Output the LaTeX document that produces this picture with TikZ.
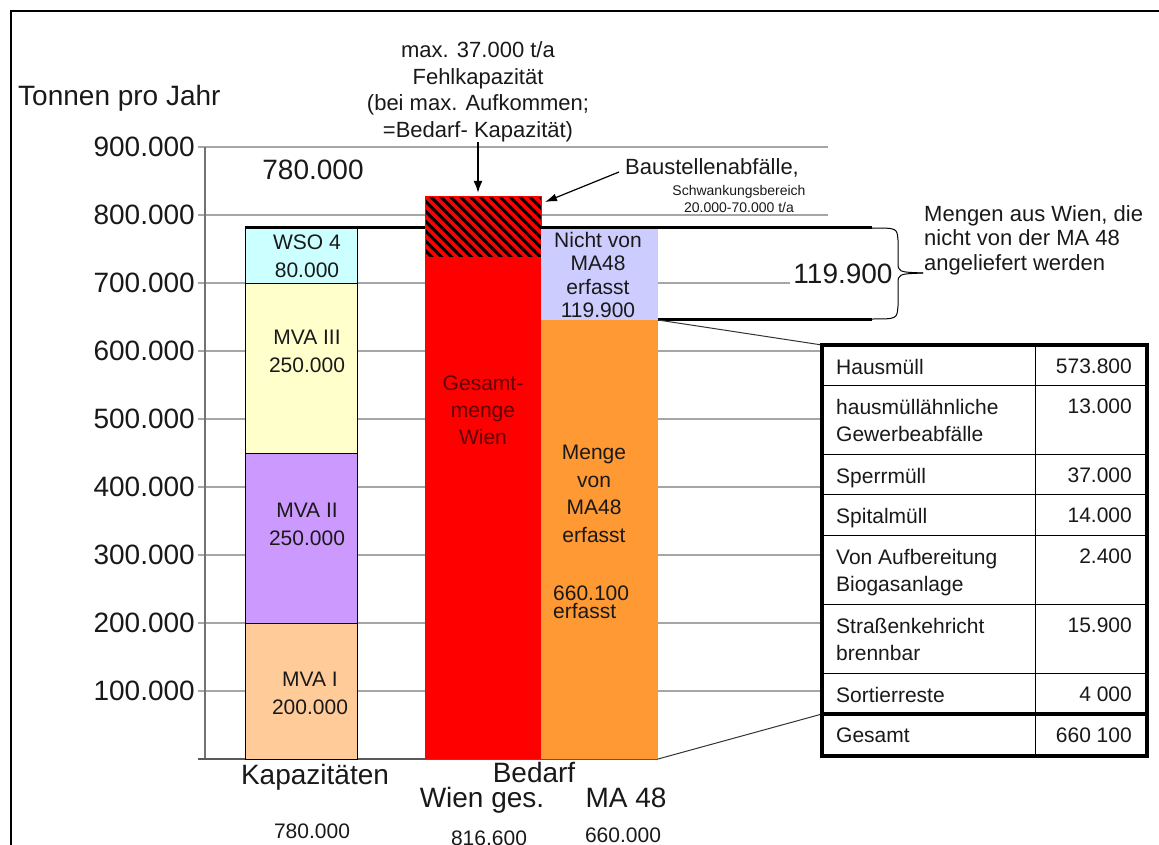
\documentclass[tikz,border=0pt]{standalone}
\usepackage{fontspec}
\setmainfont{Liberation Sans}
\usetikzlibrary{patterns.meta,arrows.meta}
\definecolor{mvaone}{HTML}{FFCC99}
\definecolor{mvatwo}{HTML}{CC99FF}
\definecolor{mvathree}{HTML}{FFFFCC}
\definecolor{wsocol}{HTML}{CCFFFF}
\definecolor{bedarfred}{HTML}{FF0000}
\definecolor{nvcol}{HTML}{CCCCFF}
\definecolor{macol}{HTML}{FF9933}
\definecolor{wientext}{HTML}{600000}
\begin{document}
\begin{tikzpicture}[x=1pt, y=-1pt,
        every node/.style={inner sep=0pt, text=black!90},
        gridline/.style={draw=black!35, line width=1.2pt},
        big/.style={font=\fontsize{28}{30}\selectfont},
        mid/.style={font=\fontsize{22}{26.5}\selectfont, align=center},
        small/.style={font=\fontsize{14}{17}\selectfont, align=center},
        barlbl/.style={font=\fontsize{21}{28}\selectfont, align=center},
        cell/.style={font=\fontsize{21}{27}\selectfont, align=left, anchor=north west},
        val/.style={font=\fontsize{21}{27}\selectfont, anchor=north east}]
    \useasboundingbox (0,0) rectangle (1159,845);
    % frame
    \draw[line width=2.5pt] (11,845) -- (11,11) -- (1159,11);

    % grid lines and axis labels
    \foreach \v in {1,...,9} {
            \pgfmathtruncatemacro{\yy}{759-68*\v}
            \draw[gridline] (198,\yy) -- (205,\yy);
            \node[big, anchor=east] (tick\v) at (195,\yy) {\v00.000};
        }
    \foreach \v in {1,...,6} {
            \draw[gridline] (205,759-68*\v) -- (822,759-68*\v);
        }
    \draw[gridline] (205,283) -- (790,283);
    \draw[gridline] (205,215) -- (828,215);
    \draw[gridline] (205,147) -- (828,147);
    \draw[black!55, line width=1.5pt] (205,147) -- (205,759);
    \draw[black!65, line width=1.5pt] (198,759) -- (658,759);
    \node[big, anchor=west] (unit) at (18,98) {Tonnen pro Jahr};

    % Kapazitaeten
    \foreach \lo/\hi/\col in {759/623/mvaone, 623/453/mvatwo, 453/283/mvathree, 283/228/wsocol} {
            \filldraw[fill=\col, draw=black, line width=1pt] (245,\lo) rectangle (357,\hi);
        }
    \node[barlbl] (wso) at (307,256) {WSO 4\\80.000};
    \node[barlbl] (mva3) at (307,351) {MVA III\\250.000};
    \node[barlbl] (mva2) at (307,524) {MVA II\\250.000};
    \node[barlbl] (mva1) at (310,693) {MVA I\\200.000};
    \node[big] (kaptop) at (313,170) {780.000};

    % Bedarf Wien
    \fill[bedarfred] (425,197) rectangle (541,759);
    \fill[pattern={Lines[angle=-45,distance=7pt,line width=3pt]}, pattern color=black] (425,197) rectangle (541,257);
    \draw[bedarfred, line width=1pt] (425,197) rectangle (541,257);
    \node[barlbl, text=wientext, font=\fontsize{21}{27}\selectfont] (gesamt) at (483,410) {Gesamt-\\menge\\Wien};

    % MA 48
    \fill[nvcol] (541,228) rectangle (658,320);
    \fill[macol] (541,320) rectangle (658,759);
    \node[barlbl, font=\fontsize{21}{23.5}\selectfont] (nicht) at (598,275) {Nicht von\\MA48\\erfasst\\119.900};
    \node[barlbl, font=\fontsize{21}{27.7}\selectfont] (menge) at (594,494) {Menge\\von\\MA48\\erfasst};
    \node[barlbl, align=left, anchor=west, font=\fontsize{21}{18}\selectfont] (erfasst) at (553,602) {660.100\\erfasst};
    \draw[line width=3pt] (245,228) -- (425,228);
    \draw[line width=3pt] (541,228) -- (872,228);
    \draw[line width=3pt] (658,319) -- (872,319);

    % Fehlkapazitaet
    \node[mid] (fehl) at (478,92) {max. 37.000 t/a\\Fehlkapazität\\(bei max. Aufkommen;\\=Bedarf- Kapazität)};
    \coordinate (hatchtop) at (478,193);
    \draw[line width=2pt, -{Latex[length=12pt,width=9pt]}] (fehl.south) -- (hatchtop);

    % Baustellenabfaelle
    \node[mid, anchor=west] (bau) at (625,168) {Baustellenabfälle,};
    \node[small] (schw) at (739,199) {Schwankungsbereich\\20.000-70.000 t/a};
    \coordinate (hatchcorner) at (545,202);
    \draw[line width=1.2pt, -{Latex[length=12pt,width=8pt]}] ([xshift=-6pt,yshift=-4pt]bau.west) -- (hatchcorner);

    % Klammer
    \node[big] (nvsum) at (843,274) {119.900};
    \draw[line width=1pt] (872,228) .. controls (897,228) .. (898,240) -- (898,262)
        .. controls (898,272) .. (923,273);
    \draw[line width=1pt] (923,273) .. controls (898,274) .. (898,284) -- (898,306)
        .. controls (897,319) .. (872,319);
    \node[mid, align=left, anchor=west, font=\fontsize{22}{24.5}\selectfont] (mengen) at (924,240)
        {Mengen aus Wien, die\\nicht von der MA 48\\angeliefert werden};

    % Tabelle
    \coordinate (tabtop) at (822,345);
    \coordinate (tabsum) at (822,714);
    \draw[black!80, line width=1pt] (658,320) -- (tabtop);
    \draw[black!80, line width=1pt] (658,759) -- (tabsum);
    \foreach \y in {385,454,494,535,604,673} {
            \draw[line width=1pt] (822,\y) -- (1147,\y);
        }
    \draw[line width=1pt] (1035,345) -- (1035,756);
    \draw[line width=4pt] (822,714) -- (1147,714);
    \draw[line width=3.5pt] (822,345) rectangle (1147,756);
    \foreach \rt/\name/\val [count=\i] in {345/Hausmüll/573.800, 385/{hausmüllähnliche\\Gewerbeabfälle}/13.000,
            454/Sperrmüll/37.000, 494/Spitalmüll/14.000, 535/{Von Aufbereitung\\Biogasanlage}/2.400,
            604/{Straßenkehricht\\brennbar}/15.900, 673/Sortierreste/4 000, 714/Gesamt/660 100} {
            \node[cell] (name\i) at (836,\rt+14) {\name};
            \node[val] (val\i) at (1132,\rt+14) {\val};
        }

    % Beschriftung unten
    \node[big] (kap) at (315,777) {Kapazitäten};
    \node[big] (bed) at (534,772) {Bedarf};
    \node[big] (wges) at (482,800) {Wien ges.};
    \node[big] (ma) at (626,798) {MA 48};
    \node[font=\fontsize{21}{24}\selectfont] (kapsum) at (312,831) {780.000};
    \node[font=\fontsize{21}{24}\selectfont] (bedsum) at (489,838) {816.600};
    \node[font=\fontsize{21}{24}\selectfont] (masum) at (623,835) {660.000};
\end{tikzpicture}
\end{document}
